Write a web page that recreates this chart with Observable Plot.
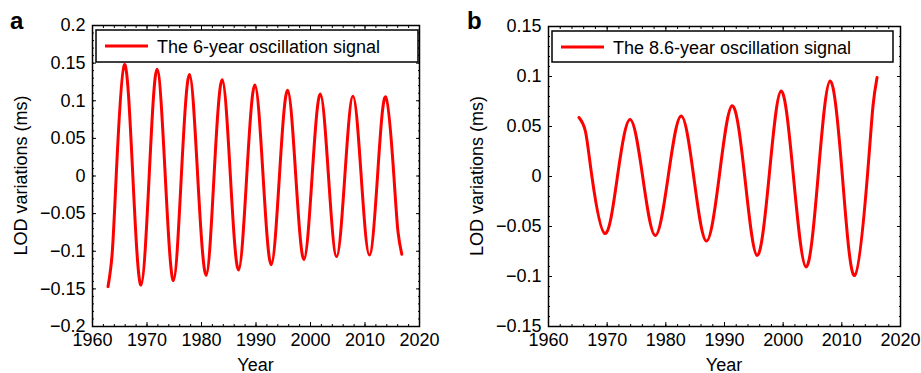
<!DOCTYPE html>
<html><head><meta charset="utf-8">
<script src="https://cdn.jsdelivr.net/npm/d3@7"></script>
<script src="https://cdn.jsdelivr.net/npm/@observablehq/plot@0.6"></script>
<style>
html,body{margin:0;padding:0;background:#fff;}
#wrap{position:relative;width:921px;height:373px;overflow:hidden;}
.panel{position:absolute;top:0;}
</style></head><body><div id="wrap"></div>
<script>
// ---- data ----
const yearsA = [1962.85,1963.6,1964.35,1965.85,1967.4,1968.9,1970.4,1971.85,1973.35,1974.85,1976.3,1977.8,1979.3,1980.85,1982.3,1983.8,1985.3,1986.8,1988.3,1989.8,1991.3,1992.8,1994.3,1995.8,1997.3,1998.8,2000.3,2001.8,2003.3,2004.8,2006.3,2007.8,2009.3,2010.8,2012.3,2013.8,2015.3,2016.05,2016.75];
const lodA   = [-0.147,-0.104,0,0.148,0,-0.145,0,0.142,0,-0.139,0,0.135,0,-0.132,0,0.128,0,-0.125,0,0.121,0,-0.118,0,0.114,0,-0.111,0,0.109,0,-0.107,0,0.106,0,-0.105,0,0.105,0,-0.074,-0.104];
const yearsB = [1965.2,1966.3,1967.4,1969.6,1971.75,1973.9,1976.05,1978.2,1980.4,1982.6,1984.75,1986.9,1989.1,1991.3,1993.45,1995.55,1997.6,1999.65,2001.75,2003.9,2005.95,2008.0,2010.1,2012.2,2014.35,2015.3,2016.0];
const lodB   = [0.059,0.045,0,-0.057,0,0.057,0,-0.059,0,0.0605,0,-0.0645,0,0.0708,0,-0.079,0,0.0855,0,-0.0905,0,0.0956,0,-0.0989,0,0.07,0.099];
const xTicks = [1960,1970,1980,1990,2000,2010,2020];
const yTicksA = [-0.2,-0.15,-0.1,-0.05,0,0.05,0.1,0.15,0.2];
const yTicksB = [-0.15,-0.1,-0.05,0,0.05,0.1,0.15];
const panelLetters = ["a","b"];
const legendTexts = ["The 6-year oscillation signal","The 8.6-year oscillation signal"];
const yTitle = "LOD variations (ms)";
const xTitle = "Year";

const FONT = '"Liberation Sans", Arial, Helvetica, sans-serif';
const xMinor = d3.range(1960, 2021, 2);
const yMinor = d3.range(-20, 21).map(i => i / 100);
const fmtY = d => (d < 0 ? "\u2212" : "") + Math.abs(d);

function panel(cfg) {
  const data = cfg.years.map((x, i) => ({x, y: cfg.values[i]}));
  const yMin = cfg.yDomain[0], yMax = cfg.yDomain[1];
  const ym = yMinor.filter(v => v >= yMin - 1e-9 && v <= yMax + 1e-9);
  const tickOpts = (anchor, size) => ({anchor, tickSize: -size, fill: "none", label: null, stroke: "black"});
  const svg = Plot.plot({
    width: cfg.width, height: 373,
    marginLeft: cfg.ml, marginRight: cfg.mr, marginTop: cfg.mt, marginBottom: cfg.mb,
    x: {domain: [1960, 2020], label: null},
    y: {domain: cfg.yDomain, label: null},
    style: {fontFamily: FONT, fontSize: "18px", color: "black", background: "white", overflow: "visible"},
    marks: [
      Plot.axisX(xTicks, {anchor: "bottom", tickSize: 0, tickPadding: 7, tickFormat: "d", label: null, fontSize: 18}),
      Plot.axisY(cfg.yTicks, {anchor: "left", tickSize: 0, tickPadding: 7, tickFormat: fmtY, label: null, fontSize: 18}),
      Plot.axisX(xTicks, tickOpts("bottom", 4)),
      Plot.axisX(xTicks, tickOpts("top", 4)),
      Plot.axisX(xMinor, tickOpts("bottom", 2)),
      Plot.axisX(xMinor, tickOpts("top", 2)),
      Plot.axisY(cfg.yTicks, tickOpts("left", 4)),
      Plot.axisY(cfg.yTicks, tickOpts("right", 4)),
      Plot.axisY(ym, tickOpts("left", 2)),
      Plot.axisY(ym, tickOpts("right", 2)),
      Plot.frame({stroke: "black", strokeWidth: 1.5}),
      Plot.line(data, {x: "x", y: "y", stroke: "#ff0000", strokeWidth: 3, curve: "natural"})
    ]
  });
  const s = d3.select(svg);
  const W = cfg.width, H = 373;
  const fx0 = cfg.ml, fx1 = W - cfg.mr, fy0 = cfg.mt, fy1 = H - cfg.mb;
  // legend
  const lg = s.append("g").attr("font-family", FONT);
  const lx = fx0 + cfg.lgdx, ly = fy0 + cfg.lgdy;
  lg.append("rect").attr("x", lx).attr("y", ly).attr("width", cfg.lgw).attr("height", cfg.lgh)
    .attr("fill", "white").attr("stroke", "black").attr("stroke-width", 1.5);
  lg.append("line").attr("x1", lx + 9).attr("x2", lx + 52).attr("y1", ly + 16).attr("y2", ly + 16)
    .attr("stroke", "#ff0000").attr("stroke-width", 3);
  lg.append("text").attr("x", lx + 61).attr("y", ly + 23).attr("text-anchor", "start")
    .attr("font-size", 18).attr("fill", "black").text(cfg.legend);
  // titles
  s.append("text").attr("x", cfg.letterX).attr("y", 29).attr("text-anchor", "start").attr("font-family", FONT)
    .attr("font-size", 24).attr("font-weight", "bold").attr("fill", "black").text(cfg.letter);
  s.append("text").attr("transform", `translate(${cfg.ylx},${(fy0 + fy1) / 2}) rotate(-90)`)
    .attr("text-anchor", "middle").attr("font-family", FONT).attr("font-size", 18).attr("fill", "black").text(yTitle);
  s.append("text").attr("x", (fx0 + fx1) / 2).attr("y", 371).attr("text-anchor", "middle")
    .attr("font-family", FONT).attr("font-size", 18).attr("fill", "black").text(xTitle);
  const div = document.createElement("div");
  div.className = "panel";
  div.style.left = cfg.left + "px";
  div.appendChild(svg);
  document.getElementById("wrap").appendChild(div);
}

panel({years: yearsA, values: lodA, yDomain: [-0.2, 0.2], yTicks: yTicksA, width: 460, left: 0,
  ml: 92, mr: 41, mt: 25, mb: 47, lgdx: 4, lgdy: 5, lgw: 322, lgh: 32, legend: legendTexts[0], letter: panelLetters[0], letterX: 10, ylx: 27});
panel({years: yearsB, values: lodB, yDomain: [-0.15, 0.15], yTicks: yTicksB, width: 461, left: 460,
  ml: 88, mr: 21, mt: 26, mb: 47, lgdx: 4, lgdy: 5, lgw: 341, lgh: 31, legend: legendTexts[1], letter: panelLetters[1], letterX: 7, ylx: 23});
</script></body></html>
